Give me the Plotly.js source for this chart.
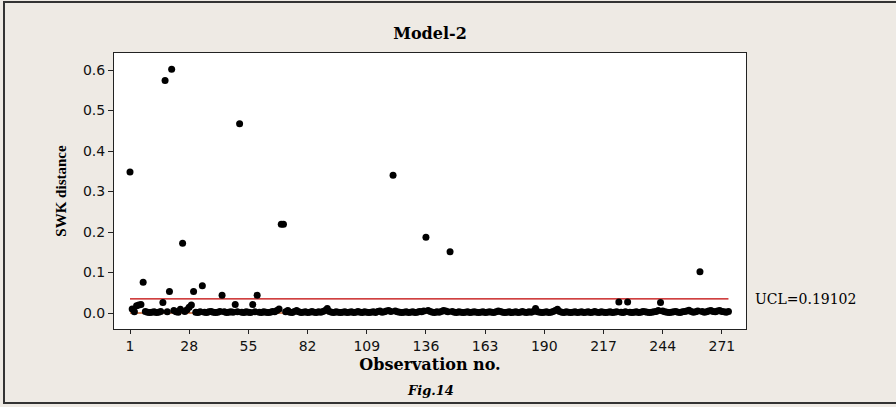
<!DOCTYPE html>
<html>
<head>
<meta charset="utf-8">
<script src="https://cdn.plot.ly/plotly-3.0.1.min.js"></script>
<style>
  html, body { margin: 0; padding: 0; background: #EEEAE4; }
  #chart { width: 896px; height: 407px; }
</style>
</head>
<body>
<div id="chart"></div>
<script>
// SWK distance per observation (Model-2)
const swkDistance = [
  0.348,0.010,0.003,0.018,0.020,0.021,0.076,0.004,0.002,0.001,0.002,0.003,0.001,0.002,0.004,0.026,0.574,0.003,0.053,0.602,
  0.006,0.003,0.002,0.009,0.172,0.004,0.008,0.014,0.020,0.053,0.002,0.001,0.003,0.067,0.002,0.001,0.003,0.004,0.002,0.001,
  0.002,0.004,0.044,0.003,0.001,0.002,0.003,0.002,0.021,0.003,0.467,0.002,0.001,0.003,0.002,0.001,0.021,0.003,0.044,0.002,
  0.001,0.003,0.002,0.001,0.002,0.004,0.003,0.006,0.010,0.219,0.219,0.003,0.006,0.002,0.001,0.004,0.006,0.003,0.001,0.002,
  0.003,0.001,0.002,0.004,0.002,0.001,0.003,0.002,0.004,0.006,0.011,0.004,0.002,0.001,0.003,0.002,0.001,0.002,0.003,0.001,
  0.002,0.003,0.001,0.002,0.004,0.002,0.001,0.003,0.002,0.001,0.002,0.003,0.001,0.004,0.005,0.002,0.003,0.005,0.006,0.004,
  0.340,0.005,0.003,0.002,0.001,0.002,0.003,0.001,0.002,0.003,0.001,0.002,0.004,0.003,0.005,0.187,0.006,0.004,0.002,0.001,
  0.003,0.002,0.004,0.006,0.005,0.003,0.151,0.004,0.002,0.001,0.003,0.002,0.001,0.002,0.003,0.001,0.002,0.003,0.002,0.001,
  0.002,0.003,0.001,0.002,0.003,0.002,0.001,0.003,0.005,0.004,0.002,0.001,0.002,0.003,0.001,0.002,0.003,0.001,0.002,0.004,
  0.002,0.001,0.003,0.002,0.004,0.011,0.003,0.002,0.001,0.002,0.003,0.001,0.002,0.004,0.006,0.009,0.004,0.002,0.001,0.003,
  0.002,0.001,0.002,0.003,0.001,0.002,0.003,0.001,0.002,0.003,0.001,0.002,0.004,0.002,0.001,0.003,0.002,0.001,0.002,0.003,
  0.001,0.002,0.003,0.027,0.002,0.001,0.003,0.027,0.002,0.001,0.002,0.003,0.001,0.002,0.004,0.003,0.002,0.001,0.002,0.003,
  0.004,0.006,0.026,0.005,0.003,0.002,0.001,0.002,0.003,0.004,0.002,0.001,0.003,0.004,0.005,0.007,0.004,0.002,0.003,0.005,
  0.102,0.004,0.002,0.003,0.005,0.006,0.004,0.003,0.005,0.006,0.004,0.003,0.002,0.004
];
// Control line levels as drawn in the figure
const uclLevel = 0.035;
const centerLevel = 0.0;
const uclLabel = "UCL=0.19102";
// Axis ticks
const xTickVals = [1, 28, 55, 82, 109, 136, 163, 190, 217, 244, 271];
const yTickVals = [0.0, 0.1, 0.2, 0.3, 0.4, 0.5, 0.6];
const yTickText = ["0.0", "0.1", "0.2", "0.3", "0.4", "0.5", "0.6"];

const obs = swkDistance.map((v, i) => i + 1);
const firstObs = obs[0];
const lastObs = obs[obs.length - 1];

const traces = [
  {
    x: [firstObs, lastObs], y: [centerLevel, centerLevel],
    mode: 'lines', line: { color: '#C8602A', width: 1.5 },
    hoverinfo: 'skip', showlegend: false
  },
  {
    x: [firstObs, lastObs], y: [uclLevel, uclLevel],
    mode: 'lines', line: { color: '#C00000', width: 1.2 },
    hoverinfo: 'skip', showlegend: false
  },
  {
    x: obs, y: swkDistance,
    mode: 'markers', type: 'scatter',
    marker: { color: '#000000', size: 7 },
    showlegend: false
  }
];

const serif = 'DejaVu Serif, serif';
const layout = {
  width: 896, height: 407,
  paper_bgcolor: '#EEEAE4',
  plot_bgcolor: '#FFFFFF',
  margin: { l: 114, r: 150, t: 53, b: 78 },
  showlegend: false,
  title: {
    text: '<b>Model-2</b>',
    font: { family: serif, size: 16, color: '#000' },
    x: 0.5, xref: 'paper', xanchor: 'center',
    y: 1 - 33 / 407, yref: 'container', yanchor: 'middle'
  },
  xaxis: {
    range: [-6.3, 282],
    tickvals: xTickVals,
    ticks: 'outside', ticklen: 4, tickcolor: '#222',
    showgrid: false, zeroline: false,
    showline: true, linecolor: '#222', linewidth: 1, mirror: true,
    tickfont: { family: 'DejaVu Sans, sans-serif', size: 14, color: '#111' },
    title: {
      text: '<b>Observation no.</b>',
      font: { family: serif, size: 16, color: '#000' },
      standoff: 6
    }
  },
  yaxis: {
    range: [-0.0395, 0.642],
    tickvals: yTickVals, ticktext: yTickText,
    ticks: 'outside', ticklen: 5, tickcolor: '#222',
    showgrid: false, zeroline: false,
    showline: true, linecolor: '#222', linewidth: 1, mirror: true,
    tickfont: { family: 'DejaVu Sans, sans-serif', size: 14, color: '#111' },
    title: {
      text: '<b>SWK distance</b>',
      font: { family: 'Liberation Serif, serif', size: 15, color: '#000' },
      standoff: 12
    }
  },
  annotations: [
    {
      text: uclLabel, xref: 'paper', x: 1, xshift: 7, xanchor: 'left',
      yref: 'y', y: uclLevel, yanchor: 'middle', showarrow: false,
      font: { family: serif, size: 14, color: '#000' }
    },
    {
      text: '<b><i>Fig.14</i></b>', xref: 'paper', x: 0.5, xanchor: 'center',
      yref: 'paper', y: (329 - 390) / 276, yanchor: 'middle', showarrow: false,
      font: { family: serif, size: 13, color: '#000' }
    }
  ],
  shapes: [
    {
      type: 'rect', xref: 'paper', yref: 'paper', layer: 'above',
      x0: (4 - 114) / 632, x1: (905 - 114) / 632,
      y0: (329 - 403) / 276, y1: (329 - 2) / 276,
      line: { color: '#333', width: 2 }, fillcolor: 'rgba(0,0,0,0)'
    }
  ]
};

Plotly.newPlot('chart', traces, layout, { displayModeBar: false, staticPlot: true });
</script>
</body>
</html>
